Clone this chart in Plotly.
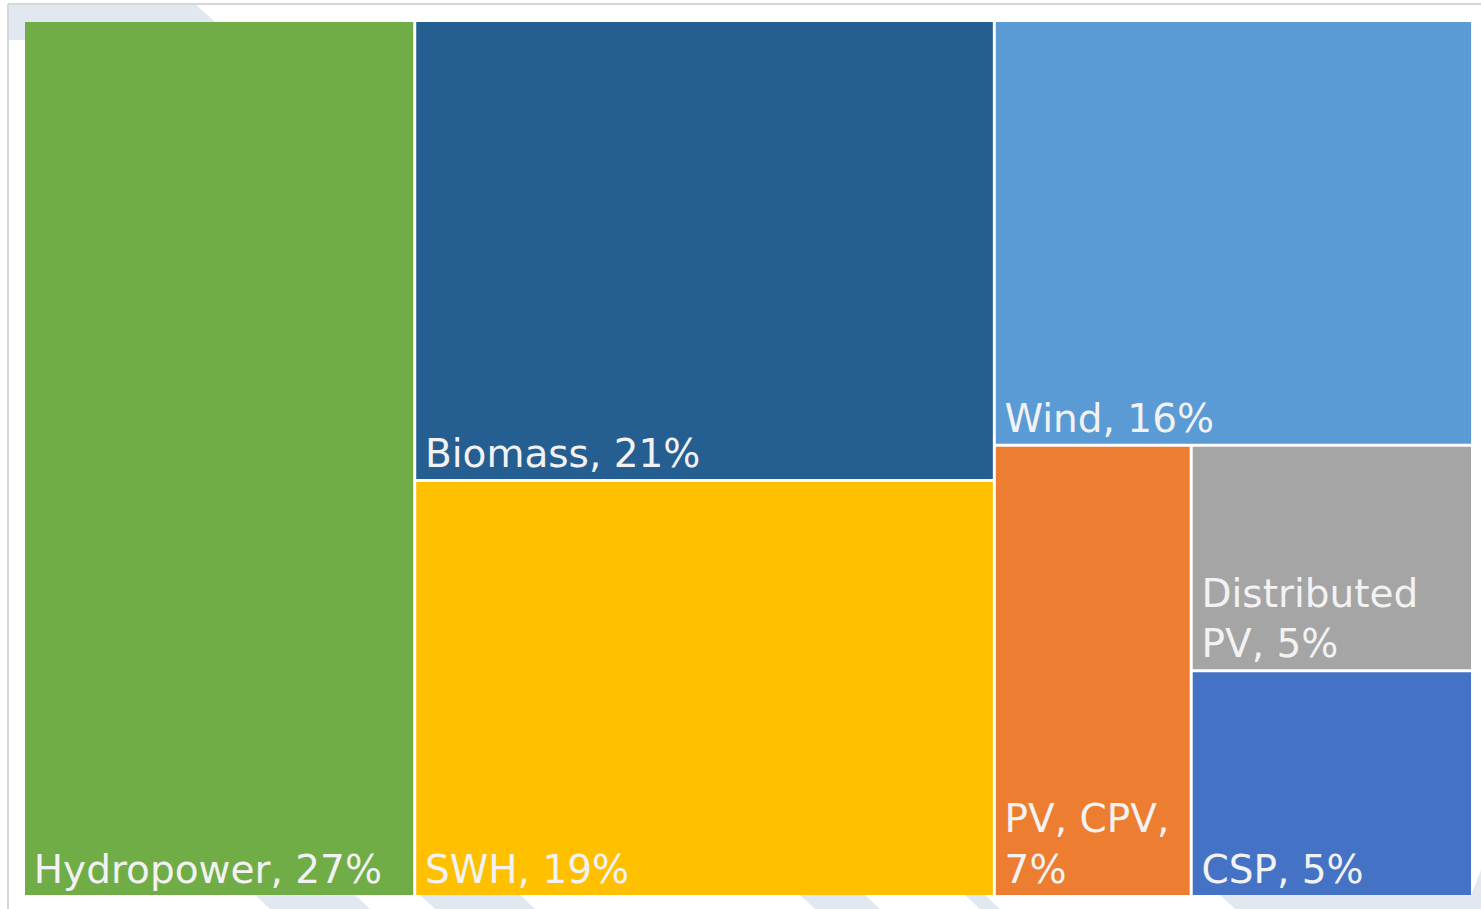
import plotly.graph_objects as go

# ---- data ----
categories = ["Hydropower", "Biomass", "SWH", "Wind", "PV, CPV", "Distributed PV", "CSP"]
shares = [27, 21, 19, 16, 7, 5, 5]
label_lines = [["Hydropower, 27%"], ["Biomass, 21%"], ["SWH, 19%"], ["Wind, 16%"],
               ["PV, CPV,", "7%"], ["Distributed", "PV, 5%"], ["CSP, 5%"]]
tile_colors = ["#70AD47", "#255E91", "#FFC000", "#5B9BD5", "#ED7D31", "#A5A5A5", "#4472C4"]

# grouping (layout structure of the treemap)
group_ids = ["G1", "G2", "G3", "G4"]
group_parents = ["", "", "G2", "G3"]
leaf_parents = ["", "G1", "G1", "G2", "G3", "G4", "G4"]

# ordering so that slice/dice reproduces the reference layout
order_ids = ["Hydropower", "G1", "Biomass", "SWH", "G2", "Wind", "G3", "PV, CPV", "G4", "Distributed PV", "CSP"]

indent = "<span style='font-size:18px'>&nbsp;</span>"
label_text = ["<br>".join(indent + ln for ln in lines) for lines in label_lines]

leaf_map = {c: (p, v, t, col) for c, p, v, t, col in zip(categories, leaf_parents, shares, label_text, tile_colors)}
grp_map = {g: p for g, p in zip(group_ids, group_parents)}

ids, parents, values, texts, colors = [], [], [], [], []
for nid in order_ids:
    ids.append(nid)
    if nid in leaf_map:
        p, v, t, col = leaf_map[nid]
        parents.append(p); values.append(v); texts.append(t); colors.append(col)
    else:
        parents.append(grp_map[nid]); values.append(0); texts.append(""); colors.append("rgba(255,255,255,0)")

fig = go.Figure(go.Treemap(
    ids=ids,
    labels=ids,
    parents=parents,
    values=values,
    branchvalues="remainder",
    sort=False,
    text=texts,
    textinfo="text",
    textposition="bottom left",
    textfont=dict(family="DejaVu Sans", size=39, color="#F2F2F2"),
    marker=dict(colors=colors, line=dict(width=0), pad=dict(t=0, l=0, r=0, b=0)),
    tiling=dict(packing="slice-dice", pad=3),
    pathbar=dict(visible=False),
    hoverinfo="skip",
    root=dict(color="rgba(255,255,255,0)"),
))

W, H = 1481, 909
ml, mr, mt, mb = 25, 10, 22, 14
pw, ph = W - ml - mr, H - mt - mb

def px(x):
    return (x - ml) / pw

def py(y):
    return 1 - (y - mt) / ph

stripe = "#E1E8F0"
shapes = []
# faint background stripes (decoration)
for poly in [
    [(8, 4), (195, 4), (215, 22), (25, 22), (25, 40), (8, 40)],
    [(255, 895), (355, 895), (370, 909), (270, 909)],
    [(420, 895), (520, 895), (535, 909), (435, 909)],
    [(800, 895), (865, 895), (880, 909), (815, 909)],
    [(965, 895), (985, 895), (1000, 909), (980, 909)],
    [(1220, 895), (1471, 895), (1481, 870), (1481, 909), (1235, 909)],
]:
    path = "M " + " L ".join(f"{px(x)},{py(y)}" for x, y in poly) + " Z"
    shapes.append(dict(type="path", xref="paper", yref="paper", path=path,
                       fillcolor=stripe, line=dict(width=0), layer="below"))
# light frame lines
shapes.append(dict(type="line", xref="paper", yref="paper", x0=px(8), x1=px(1481), y0=py(4), y1=py(4),
                   line=dict(color="#D6D6D6", width=2), layer="below"))
shapes.append(dict(type="line", xref="paper", yref="paper", x0=px(8), x1=px(8), y0=py(4), y1=py(909),
                   line=dict(color="#D6D6D6", width=2), layer="below"))

fig.update_layout(
    width=W, height=H,
    margin=dict(l=ml, r=mr, t=mt, b=mb),
    paper_bgcolor="white",
    plot_bgcolor="white",
    shapes=shapes,
    showlegend=False,
)

fig.write_html("out.html", config={"displayModeBar": False},
               post_script="document.body.style.margin='0';document.body.style.overflow='hidden';")
